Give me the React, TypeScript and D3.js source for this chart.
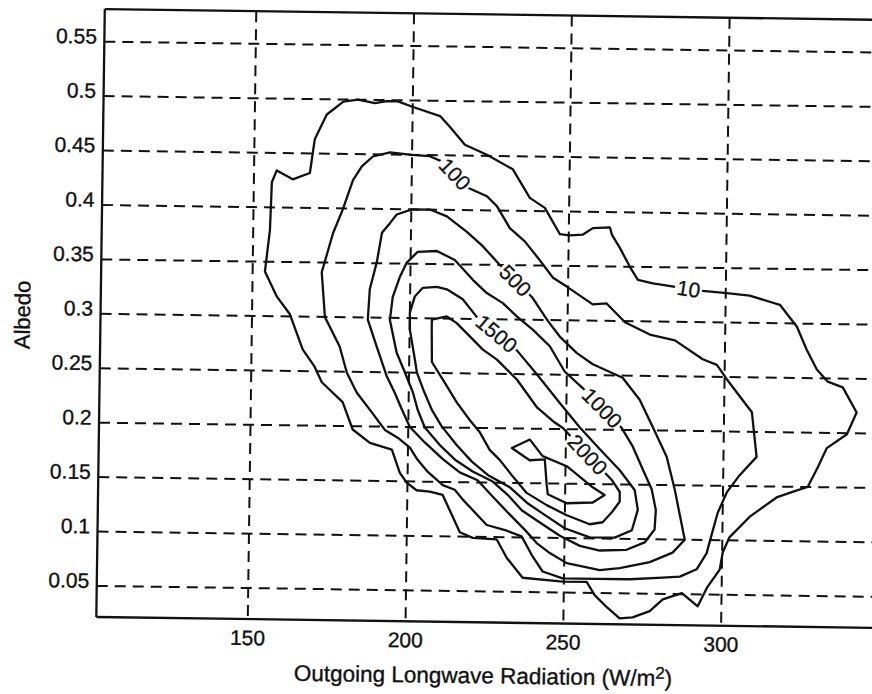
import React from "react";
import * as d3 from "d3";

// axis ticks
const olrTicks = [150, 200, 250, 300];
const olrTickLabels = ["150", "200", "250", "300"];
const albedoTicks = [0.05, 0.1, 0.15, 0.2, 0.25, 0.3, 0.35, 0.4, 0.45, 0.5, 0.55];
const albedoTickLabels = ["0.05", "0.1", "0.15", "0.2", "0.25", "0.3", "0.35", "0.4", "0.45", "0.5", "0.55"];

// contour lines, as [OLR (W/m2), albedo]
const contour10 = [
  [178.0, 0.498], [182.6, 0.5], [188.0, 0.497], [191.8, 0.499], [195.3, 0.499], [200.1, 0.494],
  [208.7, 0.486], [211.9, 0.476], [216.7, 0.46], [223.7, 0.451], [232.0, 0.438], [237.5, 0.412],
  [242.3, 0.403], [247.2, 0.379], [250.3, 0.378], [254.5, 0.379], [257.6, 0.385], [263.0, 0.386],
  [263.7, 0.379], [266.3, 0.367], [269.5, 0.35], [272.1, 0.338], [276.9, 0.335], [284.5, 0.332],
  [291.8, 0.329], [300.3, 0.327], [307.6, 0.325], [317.2, 0.317], [322.7, 0.297], [325.9, 0.276],
  [329.2, 0.258], [332.7, 0.247], [337.5, 0.242], [342.0, 0.219], [339.0, 0.199], [332.7, 0.186],
  [329.9, 0.168], [326.8, 0.15], [322.7, 0.146], [317.0, 0.14], [308.6, 0.122], [302.3, 0.103],
  [300.2, 0.089], [299.3, 0.073], [295.3, 0.056], [292.5, 0.039], [287.4, 0.051], [281.4, 0.045],
  [277.3, 0.034], [271.9, 0.028], [267.8, 0.027], [263.7, 0.037], [259.8, 0.048], [257.2, 0.06],
  [249.6, 0.06], [236.9, 0.063], [231.8, 0.081], [228.5, 0.098], [220.9, 0.099], [216.8, 0.104],
  [213.5, 0.124], [211.2, 0.138], [207.1, 0.141], [202.9, 0.142], [199.7, 0.149], [197.5, 0.158],
  [194.9, 0.179], [187.9, 0.185], [182.4, 0.197], [179.1, 0.222], [172.4, 0.24], [170.1, 0.254],
  [166.2, 0.27], [162.0, 0.302], [157.8, 0.318], [153.9, 0.341], [155.3, 0.379], [155.7, 0.423],
  [157.2, 0.434], [162.3, 0.426], [167.7, 0.432], [169.1, 0.463], [172.8, 0.486],
];

const contour100 = [
  [180.3, 0.249], [177.9, 0.273], [173.1, 0.3], [171.9, 0.341], [175.3, 0.377], [178.3, 0.399],
  [181.4, 0.426], [184.2, 0.439], [187.6, 0.448], [193.0, 0.452], [199.9, 0.45], [205.6, 0.449],
  [209.8, 0.444], [217.5, 0.421], [223.9, 0.413], [227.1, 0.404], [231.3, 0.384], [236.1, 0.372],
  [240.9, 0.355], [245.2, 0.339], [249.6, 0.331], [257.9, 0.315], [262.3, 0.316], [268.2, 0.299],
  [276.1, 0.288], [284.1, 0.283], [293.0, 0.266], [297.5, 0.261], [300.7, 0.248], [308.8, 0.218],
  [310.5, 0.177], [305.2, 0.16], [301.2, 0.144], [298.4, 0.125], [296.6, 0.105], [295.1, 0.088],
  [292.0, 0.073], [286.7, 0.066], [281.3, 0.065], [270.9, 0.063], [260.4, 0.063], [249.6, 0.063],
  [243.2, 0.069], [239.7, 0.084], [236.4, 0.101], [231.7, 0.106], [225.3, 0.111], [217.6, 0.134],
  [215.0, 0.143], [211.2, 0.147], [206.4, 0.159], [203.1, 0.17], [200.6, 0.181], [196.7, 0.19],
  [192.6, 0.197], [188.4, 0.213], [183.5, 0.231],
];

const contour500 = [
  [193.0, 0.246], [189.7, 0.273], [186.7, 0.298], [187.2, 0.326], [189.3, 0.351], [190.8, 0.378],
  [193.3, 0.387], [195.4, 0.395], [200.2, 0.4], [205.9, 0.4], [211.3, 0.394], [217.7, 0.38],
  [222.8, 0.367], [228.3, 0.35], [238.6, 0.321], [243.8, 0.299], [247.6, 0.285], [253.1, 0.27],
  [258.2, 0.26], [267.7, 0.248], [273.2, 0.228], [277.5, 0.203], [282.0, 0.176], [284.7, 0.146],
  [288.1, 0.1], [284.3, 0.088], [277.1, 0.079], [267.6, 0.073], [261.3, 0.071], [250.8, 0.077],
  [245.4, 0.086], [241.2, 0.095], [237.4, 0.107], [232.5, 0.121], [227.1, 0.137], [222.2, 0.152],
  [216.5, 0.159], [211.1, 0.171], [205.3, 0.186], [200.5, 0.2], [197.9, 0.216], [195.6, 0.231],
];

const contour1000 = [
  [198.7, 0.25], [196.0, 0.268], [193.7, 0.298], [194.5, 0.319], [196.7, 0.338], [198.8, 0.351],
  [202.2, 0.361], [208.3, 0.362], [214.0, 0.354], [219.8, 0.336], [224.3, 0.324], [229.4, 0.315],
  [233.9, 0.303], [239.0, 0.291], [244.5, 0.276], [249.3, 0.253], [255.1, 0.238], [267.6, 0.202],
  [271.2, 0.185], [274.5, 0.164], [277.4, 0.146], [278.8, 0.127], [278.5, 0.109], [275.4, 0.097],
  [269.7, 0.09], [261.2, 0.089], [254.9, 0.093], [248.5, 0.102], [242.1, 0.114], [236.3, 0.125],
  [231.8, 0.139], [227.0, 0.151], [220.6, 0.16], [215.2, 0.17], [210.0, 0.184], [205.2, 0.2],
  [202.9, 0.216], [201.3, 0.232],
];

const contour1500 = [
  [202.5, 0.25], [201.8, 0.262], [200.1, 0.289], [200.0, 0.305], [201.5, 0.32], [204.0, 0.328],
  [208.4, 0.329], [211.6, 0.327], [216.7, 0.318], [221.2, 0.302], [234.0, 0.272], [240.5, 0.25],
  [247.9, 0.224], [254.3, 0.202], [260.8, 0.182], [267.2, 0.163], [272.0, 0.145], [273.1, 0.127],
  [271.3, 0.108], [265.9, 0.101], [258.0, 0.101], [250.0, 0.109], [243.6, 0.121], [237.9, 0.132],
  [232.4, 0.146], [225.4, 0.157], [220.3, 0.169], [215.4, 0.184], [210.6, 0.201], [207.4, 0.216],
  [204.8, 0.233],
];

const contour2000 = [
  [207.2, 0.26], [207.0, 0.29], [207.0, 0.299], [211.7, 0.302], [214.9, 0.296], [219.1, 0.284],
  [223.3, 0.272], [227.8, 0.263], [234.2, 0.245], [240.6, 0.22], [246.4, 0.206], [249.0, 0.201],
  [264.7, 0.154], [267.3, 0.143], [267.3, 0.134], [264.8, 0.124], [262.0, 0.115], [257.9, 0.113],
  [250.6, 0.121], [244.2, 0.13], [237.8, 0.141], [233.3, 0.156], [229.1, 0.171], [225.9, 0.18],
  [222.7, 0.196], [219.5, 0.207], [215.3, 0.223], [211.4, 0.241],
];

// small unlabelled ring at the peak
const contourPeak = [
  [232.9, 0.182], [238.6, 0.19], [242.7, 0.175], [250.4, 0.166], [258.7, 0.147], [262.5, 0.14],
  [258.8, 0.133], [250.5, 0.132], [244.5, 0.14], [244.1, 0.149], [243.4, 0.172], [238.6, 0.171],
];

const contourLevels = ["10", "100", "500", "1000", "1500", "2000"];
const contourLines = [contour10, contour100, contour500, contour1000, contour1500, contour2000];
// where each level's inline label sits, [OLR, albedo]
const labelSpots = [
  [288.2, 0.3305], [213.7, 0.433], [233.3, 0.336], [261.4, 0.22], [227.6, 0.287], [257.0, 0.177],
];

const FONT = "'Liberation Sans', Arial, Helvetica, sans-serif";

export default function App() {
  const width = 872;
  const height = 694;
  const left = 100.5, right = 880, top = 9, bottom = 617;

  const x = d3.scaleLinear().domain([102, 349]).range([left, right]);
  const y = d3.scaleLinear().domain([0.0215, 0.58]).range([bottom, top]);

  const line = d3
    .line<number[]>()
    .x((d) => x(d[0]))
    .y((d) => y(d[1]))
    .curve(d3.curveLinearClosed);

  // angle of the contour segment nearest to the label
  const labelAngle = (pts: number[][], spot: number[]) => {
    const sx = x(spot[0]);
    const sy = y(spot[1]);
    let best = Infinity;
    let ang = 0;
    pts.forEach((p, i) => {
      const q = pts[(i + 1) % pts.length];
      const mx = (x(p[0]) + x(q[0])) / 2;
      const my = (y(p[1]) + y(q[1])) / 2;
      const dist = (mx - sx) ** 2 + (my - sy) ** 2;
      if (dist < best) {
        best = dist;
        ang = (Math.atan2(y(q[1]) - y(p[1]), x(q[0]) - x(p[0])) * 180) / Math.PI;
      }
    });
    if (ang > 90) ang -= 180;
    if (ang < -90) ang += 180;
    return ang;
  };

  const ink = "#111";
  const labelSize = 21;

  return (
    <svg
      width={width}
      height={height}
      style={{ position: "absolute", left: 0, top: 0, background: "#fff" }}
      fontFamily={FONT}
    >
      <rect width={width} height={height} fill="#fff" />
      {/* the scan sits slightly turned */}
      <g transform="rotate(0.8, 100, 317)">
        {/* grid */}
        <g stroke={ink} strokeWidth={2} strokeDasharray="11,7" fill="none">
          {olrTicks.map((t) => (
            <line key={"gx" + t} x1={x(t)} x2={x(t)} y1={top} y2={bottom} />
          ))}
          {albedoTicks.map((t) => (
            <line key={"gy" + t} x1={left} x2={right} y1={y(t)} y2={y(t)} />
          ))}
        </g>

        {/* contours */}
        <g stroke={ink} strokeWidth={2.3} fill="none" strokeLinejoin="round">
          {contourLines.map((pts, i) => (
            <path key={"c" + i} d={line(pts) || ""} />
          ))}
          <path d={line(contourPeak) || ""} />
        </g>

        {/* inline contour labels */}
        {contourLevels.map((lab, i) => {
          const spot = labelSpots[i];
          const ang = labelAngle(contourLines[i], spot);
          const w = lab.length * labelSize * 0.556 + 4;
          return (
            <g key={"l" + lab} transform={`translate(${x(spot[0])},${y(spot[1])}) rotate(${ang})`}>
              <rect x={-w / 2} y={-6} width={w} height={12} fill="#fff" />
              <text
                textAnchor="middle"
                dy="0.36em"
                fontSize={labelSize}
                fill={ink}
                stroke={ink}
                strokeWidth={0.3}
              >
                {lab}
              </text>
            </g>
          );
        })}

        {/* frame */}
        <g stroke={ink} strokeWidth={2.3} fill="none">
          <line x1={left} x2={right} y1={top} y2={top} />
          <line x1={left} x2={left} y1={top} y2={bottom} />
          <line x1={left} x2={right} y1={bottom} y2={bottom} />
        </g>

        <g fill={ink} stroke={ink} strokeWidth={0.35}>
          {/* tick labels */}
          {albedoTicks.map((t, i) => (
            <text key={"ty" + t} x={left - 7.5} y={y(t) + 2} textAnchor="end" fontSize={21}>
              {albedoTickLabels[i]}
            </text>
          ))}
          {olrTicks.map((t, i) => (
            <text key={"tx" + t} x={x(t)} y={bottom + 26} textAnchor="middle" fontSize={21}>
              {olrTickLabels[i]}
            </text>
          ))}

          {/* axis titles */}
          <text transform={`translate(30,316) rotate(-90)`} textAnchor="middle" fontSize={22}>
            Albedo
          </text>
          <text x={488} y={678} textAnchor="middle" fontSize={22.5}>
            Outgoing Longwave Radiation (W/m
            <tspan dy={-7} fontSize={17}>2</tspan>
            <tspan dy={7}>)</tspan>
          </text>
        </g>
      </g>
    </svg>
  );
}
